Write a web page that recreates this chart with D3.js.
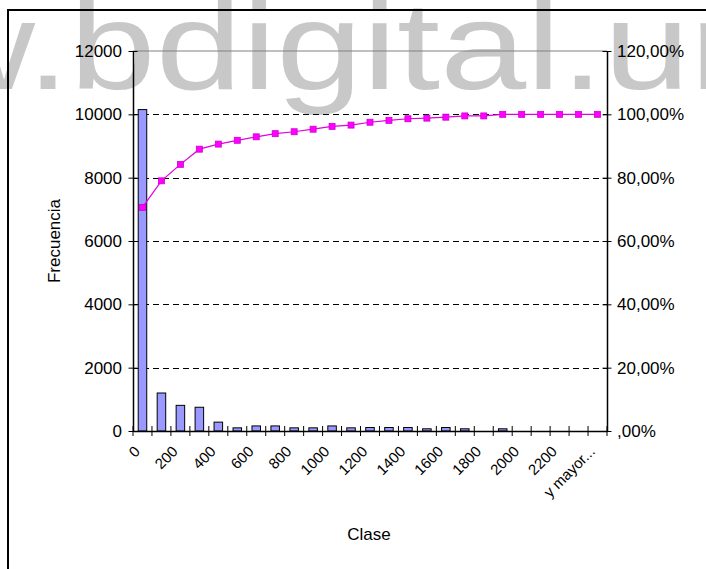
<!DOCTYPE html>
<html>
<head>
<meta charset="utf-8">
<script src="https://cdn.jsdelivr.net/npm/d3@7"></script>
<style>
  html, body { margin: 0; padding: 0; background: #fff; }
  svg { display: block; }
  text { font-family: "Liberation Sans", Arial, sans-serif; fill: #000; }
</style>
</head>
<body>
<svg id="chart" width="706" height="569"></svg>
<script>
// ---- data ----
const categories = ["0","100","200","300","400","500","600","700","800","900","1000","1100","1200",
  "1300","1400","1500","1600","1700","1800","1900","2000","2100","2200","2300","y mayor..."];
const frecuencia = [10150,1200,810,750,280,100,160,160,100,100,160,100,110,110,110,70,110,70,0,70,0,0,0,0,0];
const acumulado = [70.6,79.0,84.2,89.0,90.6,91.8,92.9,93.9,94.5,95.3,96.2,96.6,97.5,98.1,98.6,98.8,99.1,99.5,99.5,100,100,100,100,100,100];
const leftTicks = [0,2000,4000,6000,8000,10000,12000];
const rightTicks = [0,20,40,60,80,100,120];
const rightTickLabels = [",00%","20,00%","40,00%","60,00%","80,00%","100,00%","120,00%"];
const xLabelEvery = 2;
const xTitle = "Clase";
const yTitle = "Frecuencia";
const watermark = "www.bdigital.unal.edu.co";

// ---- layout ----
const svg = d3.select("#chart");
const L = 133, R = 607, T = 51, B = 431;

svg.append("rect").attr("width", 706).attr("height", 569).attr("fill", "#fff");

// watermark (horizontally stretched, as in the reference)
const wmScale = 1.24;
svg.append("g").attr("transform", `scale(${wmScale},1)`)
  .append("text")
  .attr("x", (78 - 2.444 * 125 * wmScale) / wmScale)
  .attr("y", 89)
  .style("font-size", "125px")
  .style("fill", "#c8c8c8")
  .text(watermark);

// outer frame
svg.append("path").attr("d", "M8,569V10H706").attr("fill", "none").attr("stroke", "#000").attr("stroke-width", 2);

const x = d3.scaleBand().domain(categories).range([L, R]).padding(0);
const y = d3.scaleLinear().domain([0, 12000]).range([B, T]);
const y2 = d3.scaleLinear().domain([0, 120]).range([B, T]);

// plot area top border
svg.append("line").attr("x1", L).attr("x2", R).attr("y1", y(12000)).attr("y2", y(12000))
  .attr("stroke", "#808080").attr("stroke-width", 1);

// gridlines
svg.append("g").selectAll("line").data(leftTicks.filter(d => d > 0 && d < 12000)).join("line")
  .attr("x1", L).attr("x2", R)
  .attr("y1", d => Math.round(y(d)) + 0.5).attr("y2", d => Math.round(y(d)) + 0.5)
  .attr("stroke", "#000").attr("stroke-width", 1).attr("stroke-dasharray", "6,4");

// bars
const bw = x.bandwidth() * 0.45;
svg.append("g").selectAll("rect").data(categories.map((c, i) => ({c, v: frecuencia[i]})).filter(d => d.v > 0)).join("rect")
  .attr("x", d => x(d.c) + x.bandwidth() / 2 - bw / 2)
  .attr("y", d => y(d.v))
  .attr("width", bw)
  .attr("height", d => B - y(d.v))
  .attr("fill", "#9999ff").attr("stroke", "#000").attr("stroke-width", 1);

// cumulative line
const pts = categories.map((c, i) => [x(c) + x.bandwidth() / 2, y2(acumulado[i])]);
svg.append("path").datum(pts).attr("d", d3.line())
  .attr("fill", "none").attr("stroke", "#e000e0").attr("stroke-width", 1.2);
svg.append("g").selectAll("rect").data(pts).join("rect")
  .attr("x", d => d[0] - 3).attr("y", d => d[1] - 3).attr("width", 6).attr("height", 6)
  .attr("fill", "#ff00ff").attr("stroke", "#d000d0").attr("stroke-width", 0.8);

// left axis
const ga = svg.append("g").attr("transform", `translate(${L},0)`)
  .call(d3.axisLeft(y).tickValues(leftTicks).tickSize(0).tickPadding(11).tickFormat(d3.format("d")));
ga.select(".domain").attr("stroke", "#000").attr("stroke-width", 1.5);
ga.selectAll(".tick line").remove();
ga.selectAll(".tick").append("line").attr("x1", -4.5).attr("x2", 4.5).attr("stroke", "#000");
ga.selectAll(".tick text").style("font-size", "17px").attr("font-family", null);

// right axis
const gr = svg.append("g").attr("transform", `translate(${R},0)`)
  .call(d3.axisRight(y2).tickValues(rightTicks).tickSize(0).tickPadding(10)
    .tickFormat((d, i) => rightTickLabels[i]));
gr.select(".domain").attr("stroke", "#000").attr("stroke-width", 1.5);
gr.selectAll(".tick line").remove();
gr.selectAll(".tick").append("line").attr("x1", -4.5).attr("x2", 4.5).attr("stroke", "#000");
gr.selectAll(".tick text").style("font-size", "17px").attr("font-family", null);

// bottom axis
const gb = svg.append("g").attr("transform", `translate(0,${B})`)
  .call(d3.axisBottom(x).tickSize(0).tickFormat(""));
gb.select(".domain").attr("stroke", "#000").attr("stroke-width", 1.5);
gb.selectAll(".tick").remove();
const bounds = categories.map(c => x(c)).concat([x(categories[categories.length - 1]) + x.bandwidth()]);
gb.append("g").selectAll("line").data(bounds).join("line")
  .attr("x1", d => d).attr("x2", d => d).attr("y1", -5).attr("y2", 5).attr("stroke", "#000");
gb.append("g").selectAll("text").data(categories.filter((c, i) => i % xLabelEvery === 0)).join("text")
  .attr("transform", d => `translate(${x(d) + x.bandwidth() / 2 - 8},${15}) rotate(-45)`)
  .attr("text-anchor", "end")
  .attr("dy", "0.6em")
  .style("font-size", "15px")
  .text(d => d);

// titles
svg.append("text").attr("x", 369).attr("y", 540).attr("text-anchor", "middle").style("font-size", "17px").text(xTitle);
svg.append("text").attr("transform", "translate(60,241) rotate(-90)").attr("text-anchor", "middle").style("font-size", "17px").text(yTitle);
</script>
</body>
</html>
